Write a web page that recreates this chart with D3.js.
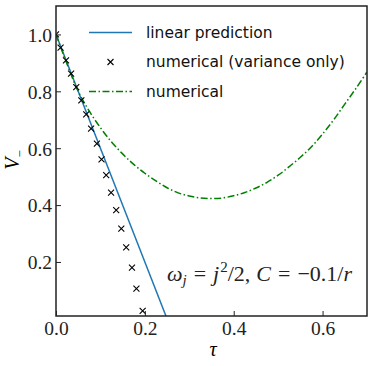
<!DOCTYPE html>
<html>
<head>
<meta charset="utf-8">
<script src="https://cdn.jsdelivr.net/npm/d3@7"></script>
<style>
  body { margin: 0; background: #fff; }
  svg { display: block; }
</style>
</head>
<body>
<svg id="chart" width="374" height="366"></svg>
<script>
// data
const linearTau = [0, 0.2475];
const linearV = [1.0, 0.01];

const varTau = [0, 0.0103, 0.0225, 0.034, 0.0456, 0.057, 0.068, 0.079, 0.092, 0.1025,
  0.113, 0.124, 0.1355, 0.147, 0.158, 0.171, 0.181, 0.195];
const varV = [1.0, 0.954, 0.909, 0.862, 0.815, 0.768, 0.719, 0.669, 0.616, 0.561,
  0.505, 0.444, 0.382, 0.317, 0.251, 0.180, 0.106, 0.028];

const numTau = [0, 0.025, 0.05, 0.075, 0.1, 0.125, 0.15, 0.175, 0.2, 0.225, 0.25, 0.275,
  0.3, 0.325, 0.35, 0.375, 0.4, 0.425, 0.45, 0.475, 0.5, 0.525, 0.55, 0.575, 0.6,
  0.625, 0.65, 0.675, 0.7];
const numV = [1.0, 0.895, 0.8, 0.73, 0.672, 0.622, 0.58, 0.543, 0.512, 0.485, 0.461, 0.443,
  0.432, 0.425, 0.423, 0.425, 0.433, 0.444, 0.46, 0.48, 0.505, 0.535, 0.568, 0.605, 0.65,
  0.7, 0.755, 0.81, 0.868];

const xTicks = [0, 0.2, 0.4, 0.6];
const yTicks = [0.2, 0.4, 0.6, 0.8, 1.0];
const legendLabels = ['linear prediction', 'numerical (variance only)', 'numerical'];

const margin = {top: 6, right: 7, bottom: 50, left: 56};
const width = 374 - margin.left - margin.right;
const height = 366 - margin.top - margin.bottom;

const svg = d3.select('#chart');
const g = svg.append('g').attr('transform', `translate(${margin.left},${margin.top})`);

const x = d3.scaleLinear().domain([0, 0.7]).range([0, width]);
const y = d3.scaleLinear().domain([0.01, 1.1]).range([height, 0]);

const serif = "'Liberation Serif', 'DejaVu Serif', serif";
const sans = "'DejaVu Sans', sans-serif";

// clip
svg.append('defs').append('clipPath').attr('id', 'clip')
  .append('rect').attr('width', width).attr('height', height);
const plot = g.append('g').attr('clip-path', 'url(#clip)');

// linear prediction
plot.append('path')
  .datum(linearTau.map((t, i) => [t, linearV[i]]))
  .attr('fill', 'none')
  .attr('stroke', '#1f77b4')
  .attr('stroke-width', 1.5)
  .attr('d', d3.line().x(d => x(d[0])).y(d => y(d[1])));

// numerical
plot.append('path')
  .datum(numTau.map((t, i) => [t, numV[i]]))
  .attr('fill', 'none')
  .attr('stroke', '#008000')
  .attr('stroke-width', 1.5)
  .attr('stroke-dasharray', '7,2.5,1.5,2.5')
  .attr('d', d3.line().curve(d3.curveCatmullRom).x(d => x(d[0])).y(d => y(d[1])));

// variance only markers
function cross(sel, s) {
  sel.append('path')
    .attr('d', `M${-s},${-s}L${s},${s}M${-s},${s}L${s},${-s}`)
    .attr('stroke', '#000')
    .attr('stroke-width', 1.1)
    .attr('fill', 'none');
}
varTau.forEach((t, i) => {
  const m = plot.append('g').attr('transform', `translate(${x(t)},${y(varV[i])})`);
  cross(m, 3);
});

// frame
g.append('rect')
  .attr('width', width).attr('height', height)
  .attr('fill', 'none').attr('stroke', '#222').attr('stroke-width', 1.5);

// axes, ticks pointing in
const xAxis = g.append('g')
  .attr('transform', `translate(0,${height})`)
  .call(d3.axisBottom(x).tickValues(xTicks).tickSizeInner(-5).tickSizeOuter(0).tickPadding(5).tickFormat(d3.format('.1f')));
const yAxis = g.append('g')
  .call(d3.axisLeft(y).tickValues(yTicks).tickSizeInner(-5).tickSizeOuter(0).tickPadding(4).tickFormat(d3.format('.1f')));
[xAxis, yAxis].forEach(a => {
  a.select('.domain').remove();
  a.selectAll('.tick line').attr('stroke', '#222').attr('stroke-width', 1);
  a.selectAll('.tick text').attr('fill', '#222').style('font-family', serif).style('font-size', '19.5px');
});
xAxis.selectAll('.tick text').attr('dy', '0.71em');
yAxis.selectAll('.tick text').attr('dy', '0.35em');

// axis labels
svg.append('text')
  .attr('x', 213).attr('y', 356)
  .attr('text-anchor', 'middle')
  .style('font-family', serif).style('font-style', 'italic').style('font-size', '20px')
  .text('τ');
svg.append('text')
  .attr('transform', 'translate(19,160) rotate(-90)')
  .attr('text-anchor', 'middle')
  .style('font-family', serif).style('font-style', 'italic').style('font-size', '20px')
  .text('V')
  .append('tspan').attr('dy', 5).style('font-style', 'normal').style('font-size', '13px').text('−');

// legend
const legend = g.append('g').attr('transform', 'translate(33,26.5)');
const rowH = 29.5;
legendLabels.forEach((lab, i) => {
  const row = legend.append('g').attr('transform', `translate(0,${i * rowH})`);
  if (i === 0) {
    row.append('line').attr('x1', 0).attr('x2', 43).attr('stroke', '#1f77b4').attr('stroke-width', 1.5);
  } else if (i === 1) {
    const m = row.append('g').attr('transform', 'translate(21.5,0)');
    cross(m, 3);
  } else {
    row.append('line').attr('x1', 0).attr('x2', 43).attr('stroke', '#008000')
      .attr('stroke-width', 1.5).attr('stroke-dasharray', '7,2.5,1.5,2.5');
  }
  row.append('text')
    .attr('x', 57).attr('y', 0).attr('dy', '0.35em')
    .style('font-family', sans).style('font-size', '15.5px').attr('fill', '#111')
    .text(lab);
});

// annotation
const ann = g.append('text')
  .attr('x', width - 15).attr('y', 275)
  .attr('text-anchor', 'end')
  .style('font-family', serif).style('font-size', '22px').attr('fill', '#222');
ann.append('tspan').style('font-style', 'italic').text('ω');
ann.append('tspan').style('font-style', 'italic').style('font-size', '15px').attr('dy', 4).text('j');
ann.append('tspan').attr('dy', -4).attr('dx', 7).text('=');
ann.append('tspan').style('font-style', 'italic').attr('dx', 7).text('j');
ann.append('tspan').style('font-size', '15px').attr('dy', -9).attr('dx', 1).text('2');
ann.append('tspan').attr('dy', 9).text('/2,');
ann.append('tspan').style('font-style', 'italic').attr('dx', 6).text('C');
ann.append('tspan').attr('dx', 7).text('=');
ann.append('tspan').attr('dx', 7).text('−0.1/');
ann.append('tspan').style('font-style', 'italic').text('r');
</script>
</body>
</html>
